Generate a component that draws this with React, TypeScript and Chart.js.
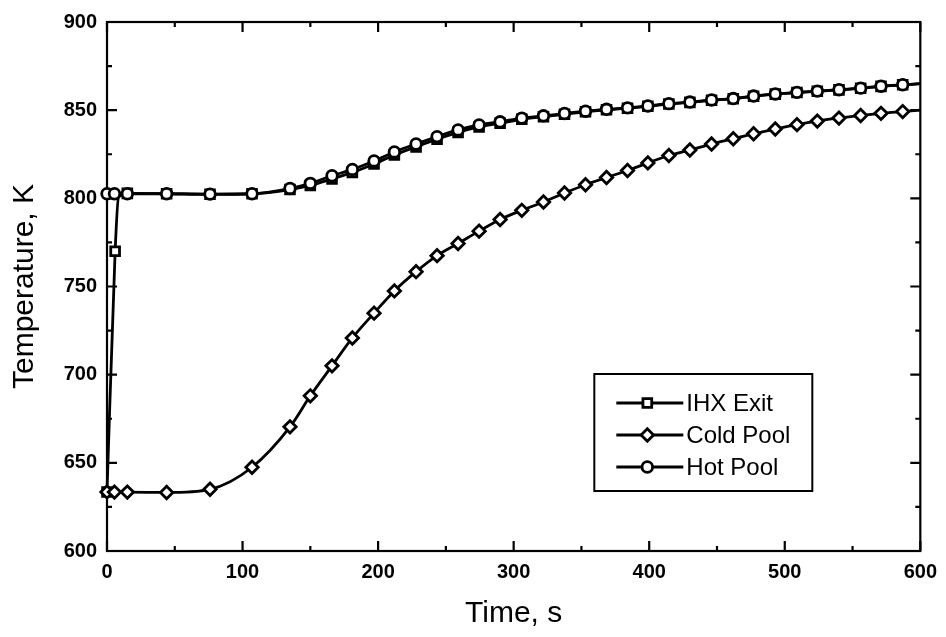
import React, { useEffect, useRef } from 'react';
import { Chart, registerables } from 'chart.js';

Chart.register(...registerables);

// ---- data ----
const ihxTime = [0, 6, 8.5, 15, 44, 76, 107, 135, 150, 166, 181, 197, 212, 228, 243.5, 259, 274.5, 290, 306, 322, 337.5, 353, 368.5, 384, 399, 414.5, 430, 446, 462, 477, 493, 509, 524, 540, 556, 571, 587, 600];
const ihxExit = [633.5, 770, 800.5, 802.8, 802.6, 802.3, 802.6, 805, 807.3, 811, 814.7, 819.5, 824.6, 829.2, 833.5, 837.4, 840.5, 842.6, 844.8, 846.3, 847.7, 849.1, 850.2, 851.1, 852.2, 853.5, 854.4, 855.6, 856.5, 857.9, 859.1, 860, 860.7, 861.5, 862.4, 863.5, 864.4, 865];

const poolTime = [0, 5.5, 15, 44, 76, 107, 135, 150, 166, 181, 197, 212, 228, 243.5, 259, 274.5, 290, 306, 322, 337.5, 353, 368.5, 384, 399, 414.5, 430, 446, 462, 477, 493, 509, 524, 540, 556, 571, 587, 600];
const coldPool = [633.5, 633.4, 633.4, 633.2, 635, 647.5, 670.4, 688, 705, 720.8, 734.9, 747.5, 758.4, 767.5, 774.4, 781.4, 788, 793.2, 797.9, 803, 807.7, 811.8, 815.8, 820.1, 824.3, 827.4, 830.8, 833.8, 836.6, 839.3, 841.8, 843.8, 845.5, 847, 848.2, 849.2, 850];
const hotPool = [802.6, 802.6, 802.6, 802.6, 802.4, 802.6, 805.6, 808.5, 812.8, 816.4, 821.2, 826.3, 830.8, 835, 838.8, 841.6, 843.4, 845.5, 846.8, 848.1, 849.4, 850.5, 851.3, 852.4, 853.7, 854.6, 855.8, 856.6, 858, 859.2, 860.1, 860.8, 861.6, 862.5, 863.6, 864.4, 865];

// times that are line vertices only (no marker)
const unmarkedTimes = [8.5, 600];

const xMajorTicks = [0, 100, 200, 300, 400, 500, 600];
const xMinorTicks = [50, 150, 250, 350, 450, 550];
const yMajorTicks = [600, 650, 700, 750, 800, 850, 900];
const yMinorTicks = [625, 675, 725, 775, 825, 875];

const seriesLabels = ['IHX Exit', 'Cold Pool', 'Hot Pool'];
const seriesMarkers = ['rect', 'rectRot', 'circle'];

const FONT = "'Liberation Sans', Arial, Helvetica, sans-serif";
const LINE_W = 2.8;
const MARK_W = 2.8;

function markerSize(style: string) {
  if (style === 'rect') return 6.2;
  if (style === 'rectRot') return 6.2;
  return 5.3;
}

function drawMarker(ctx: CanvasRenderingContext2D, style: string, x: number, y: number) {
  const r = markerSize(style);
  ctx.beginPath();
  if (style === 'circle') {
    ctx.arc(x, y, r, 0, Math.PI * 2);
  } else if (style === 'rect') {
    const h = r * Math.SQRT1_2;
    ctx.rect(x - h, y - h, 2 * h, 2 * h);
  } else {
    ctx.moveTo(x - r, y);
    ctx.lineTo(x, y - r);
    ctx.lineTo(x + r, y);
    ctx.lineTo(x, y + r);
    ctx.closePath();
  }
  ctx.fillStyle = '#fff';
  ctx.fill();
  ctx.lineWidth = MARK_W;
  ctx.strokeStyle = '#000';
  ctx.stroke();
}

const frameTicksPlugin = {
  id: 'frameTicks',
  beforeDatasetsDraw(chart: any) {
    const { ctx, chartArea: a, scales } = chart;
    const x = scales.x;
    const y = scales.y;
    ctx.save();
    ctx.strokeStyle = '#000';
    ctx.lineWidth = 2.2;
    ctx.strokeRect(a.left, a.top, a.right - a.left, a.bottom - a.top);
    ctx.beginPath();
    const xt = (vals: number[], len: number) => {
      vals.forEach((v) => {
        const p = x.getPixelForValue(v);
        ctx.moveTo(p, a.bottom);
        ctx.lineTo(p, a.bottom - len);
        ctx.moveTo(p, a.top);
        ctx.lineTo(p, a.top + len);
      });
    };
    const yt = (vals: number[], len: number) => {
      vals.forEach((v) => {
        const p = y.getPixelForValue(v);
        ctx.moveTo(a.left, p);
        ctx.lineTo(a.left + len, p);
        ctx.moveTo(a.right, p);
        ctx.lineTo(a.right - len, p);
      });
    };
    xt(xMajorTicks, 10);
    xt(xMinorTicks, 5);
    yt(yMajorTicks, 10);
    yt(yMinorTicks, 5);
    ctx.stroke();
    ctx.restore();
  },
};

const boxLegendPlugin = {
  id: 'boxLegend',
  afterDatasetsDraw(chart: any) {
    const { ctx, chartArea: a } = chart;
    const left = a.right - 326;
    const top = a.bottom - 177;
    const w = 218;
    const h = 117;
    ctx.save();
    ctx.fillStyle = '#fff';
    ctx.fillRect(left, top, w, h);
    ctx.strokeStyle = '#000';
    ctx.lineWidth = 2;
    ctx.strokeRect(left, top, w, h);
    seriesLabels.forEach((label, i) => {
      const cy = top + 29 + i * 32;
      ctx.beginPath();
      ctx.moveTo(left + 22, cy);
      ctx.lineTo(left + 89, cy);
      ctx.lineWidth = LINE_W;
      ctx.strokeStyle = '#000';
      ctx.stroke();
      drawMarker(ctx, seriesMarkers[i], left + 53, cy);
      ctx.fillStyle = '#000';
      ctx.font = `24px ${FONT}`;
      ctx.textBaseline = 'middle';
      ctx.textAlign = 'left';
      ctx.fillText(label, left + 92, cy + 1);
    });
    ctx.restore();
  },
};

function toPoints(xs: number[], ys: number[]) {
  return xs.map((t, i) => ({ x: t, y: ys[i] }));
}

function makeDataset(label: string, data: any[], style: string) {
  return {
    label,
    data,
    borderColor: '#000',
    borderWidth: LINE_W,
    pointStyle: style,
    pointRadius: (c: any) => (c.raw && unmarkedTimes.includes(c.raw.x) ? 0 : markerSize(style)),
    pointBackgroundColor: '#fff',
    pointBorderColor: '#000',
    pointBorderWidth: MARK_W,
    cubicInterpolationMode: 'monotone',
    clip: false,
    fill: false,
  };
}

export default function App() {
  const canvasRef = useRef<HTMLCanvasElement | null>(null);

  useEffect(() => {
    if (!canvasRef.current) return;
    Chart.defaults.color = '#000';
    const chart = new Chart(canvasRef.current, {
      type: 'line',
      data: {
        datasets: [
          makeDataset(seriesLabels[2], toPoints(poolTime, hotPool), 'circle'),
          makeDataset(seriesLabels[1], toPoints(poolTime, coldPool), 'rectRot'),
          makeDataset(seriesLabels[0], toPoints(ihxTime, ihxExit), 'rect'),
        ] as any,
      },
      options: {
        animation: false,
        responsive: false,
        devicePixelRatio: 1,
        layout: { padding: { left: 0, top: 19, right: 23, bottom: 0 } },
        plugins: {
          legend: { display: false },
          tooltip: { enabled: false },
        },
        scales: {
          x: {
            type: 'linear',
            min: 0,
            max: 600,
            grid: { display: false, drawTicks: false },
            border: { display: false },
            afterBuildTicks: (s: any) => {
              s.ticks = xMajorTicks.map((v) => ({ value: v }));
            },
            afterFit: (s: any) => {
              s.height = 86;
            },
            ticks: {
              padding: 9,
              font: { family: FONT, size: 20, weight: 'bold' },
              color: '#000',
              maxRotation: 0,
            },
            title: {
              display: true,
              text: 'Time, s',
              color: '#000',
              font: { family: FONT, size: 30 },
              padding: { top: 0, bottom: 5 },
            },
          },
          y: {
            type: 'linear',
            min: 600,
            max: 900,
            grid: { display: false, drawTicks: false },
            border: { display: false },
            afterBuildTicks: (s: any) => {
              s.ticks = yMajorTicks.map((v) => ({ value: v }));
            },
            afterFit: (s: any) => {
              s.width = 107;
            },
            ticks: {
              padding: 10,
              font: { family: FONT, size: 20, weight: 'bold' },
              color: '#000',
            },
            title: {
              display: true,
              text: 'Temperature, K',
              color: '#000',
              font: { family: FONT, size: 30 },
              padding: { top: 7, bottom: 0 },
            },
          },
        },
      },
      plugins: [frameTicksPlugin, boxLegendPlugin],
    });
    return () => chart.destroy();
  }, []);

  return (
    <div style={{ position: 'absolute', left: 0, top: 0, width: 946, height: 637, background: '#fff' }}>
      <canvas ref={canvasRef} width={946} height={637} style={{ display: 'block' }} />
    </div>
  );
}
